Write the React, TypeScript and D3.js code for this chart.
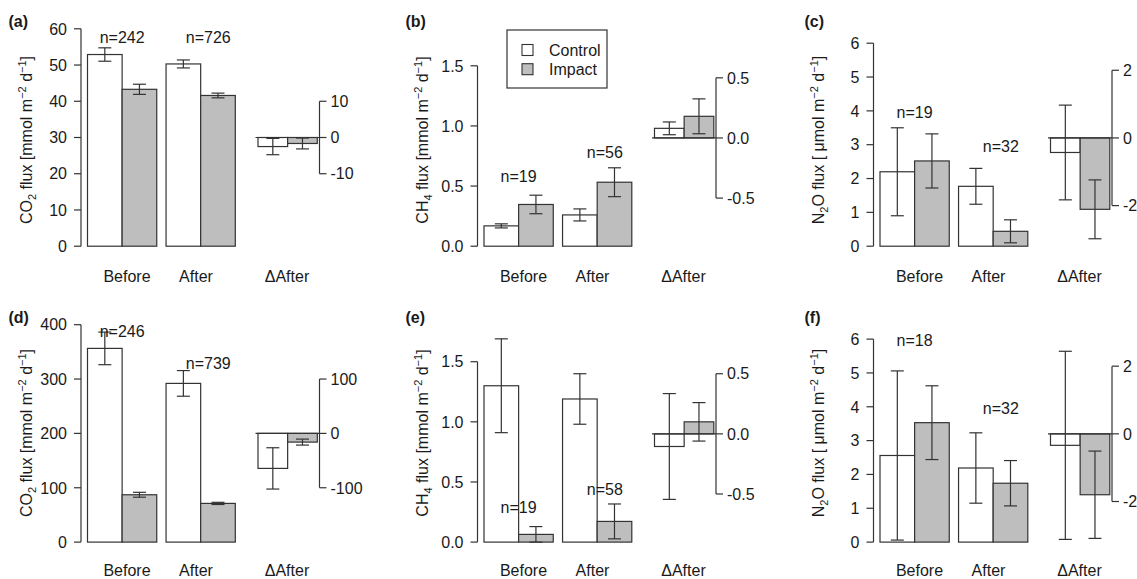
import React from "react";
import * as d3 from "d3";

// ---------- categories ----------
const groups = ["Before", "After"];
const seriesNames = ["Control", "Impact"];
const deltaLabel = "ΔAfter";
const panelLabels = ["(a)", "(b)", "(c)", "(d)", "(e)", "(f)"];

// ---------- values: order Before-Control, Before-Impact, After-Control, After-Impact ----------
const aMeans = [52.9, 43.3, 50.3, 41.6];
const aErrs = [1.85, 1.4, 1.1, 0.65];
const aDelta = [-2.5, -1.65];
const aDeltaErr = [2.25, 1.5];
const aN = [242, 726];
const aNy = [57.8, 57.8];

const bMeans = [0.169, 0.347, 0.26, 0.532];
const bErrs = [0.017, 0.077, 0.05, 0.12];
const bDelta = [0.08, 0.18];
const bDeltaErr = [0.053, 0.145];
const bN = [19, 56];
const bNy = [0.58, 0.78];

const cMeans = [2.2, 2.52, 1.77, 0.44];
const cErrs = [1.3, 0.8, 0.53, 0.34];
const cDelta = [-0.43, -2.11];
const cDeltaErr = [1.4, 0.87];
const cN = [19, 32];
const cNy = [3.96, 2.96];

const dMeans = [356.4, 87.1, 292, 71.2];
const dErrs = [30, 4.5, 23.6, 2];
const dDelta = [-64.4, -16];
const dDeltaErr = [38, 5.5];
const dN = [246, 739];
const dNy = [387.7, 328.2];

const eMeans = [1.3, 0.064, 1.19, 0.172];
const eErrs = [0.39, 0.065, 0.21, 0.145];
const eDelta = [-0.105, 0.1];
const eDeltaErr = [0.44, 0.16];
const eN = [19, 58];
const eNy = [0.29, 0.44];

const fMeans = [2.56, 3.53, 2.19, 1.74];
const fErrs = [2.5, 1.09, 1.04, 0.67];
const fDelta = [-0.34, -1.8];
const fDeltaErr = [2.78, 1.29];
const fN = [18, 32];
const fNy = [5.97, 3.95];

// ---------- tick labels ----------
const co2TicksTop = [0, 10, 20, 30, 40, 50, 60];
const co2DeltaTicksTop = [-10, 0, 10];
const co2TicksBottom = [0, 100, 200, 300, 400];
const co2DeltaTicksBottom = [-100, 0, 100];
const ch4Ticks = [0, 0.5, 1.0, 1.5];
const ch4DeltaTicks = [-0.5, 0, 0.5];
const n2oTicks = [0, 1, 2, 3, 4, 5, 6];
const n2oDeltaTicks = [-2, 0, 2];
// value on the left axis where the ΔAfter zero sits
const deltaOrigins = [30, 0.9, 3.2, 200, 0.9, 3.2];

type Gas = "CO2" | "CH4" | "N2O";

const panels = [
  { means: aMeans, errs: aErrs, delta: aDelta, deltaErr: aDeltaErr, n: aN, ny: aNy, ticks: co2TicksTop, dticks: co2DeltaTicksTop, gas: "CO2" as Gas, dec: 0 },
  { means: bMeans, errs: bErrs, delta: bDelta, deltaErr: bDeltaErr, n: bN, ny: bNy, ticks: ch4Ticks, dticks: ch4DeltaTicks, gas: "CH4" as Gas, dec: 1 },
  { means: cMeans, errs: cErrs, delta: cDelta, deltaErr: cDeltaErr, n: cN, ny: cNy, ticks: n2oTicks, dticks: n2oDeltaTicks, gas: "N2O" as Gas, dec: 0 },
  { means: dMeans, errs: dErrs, delta: dDelta, deltaErr: dDeltaErr, n: dN, ny: dNy, ticks: co2TicksBottom, dticks: co2DeltaTicksBottom, gas: "CO2" as Gas, dec: 0 },
  { means: eMeans, errs: eErrs, delta: eDelta, deltaErr: eDeltaErr, n: eN, ny: eNy, ticks: ch4Ticks, dticks: ch4DeltaTicks, gas: "CH4" as Gas, dec: 1 },
  { means: fMeans, errs: fErrs, delta: fDelta, deltaErr: fDeltaErr, n: fN, ny: fNy, ticks: n2oTicks, dticks: n2oDeltaTicks, gas: "N2O" as Gas, dec: 0 },
];

// ---------- layout ----------
const W = 1137;
const H = 579;
const colAxisX = [81, 477.5, 873.5];
const colLabelDx = [-72.5, -72, -69];
const colSpan = [217.4, 180.4, 203.0];
const rowZero = [246.2, 542.1];
const rowCatDy = [35.5, 34.3];
const rowTitleY = [140, 433];
const rowPanelLabelY = [27, 323];
const FONT = "'Liberation Sans', Arial, Helvetica, sans-serif";
const INK = "#333333";
const TXT = "#1a1a1a";
const GRAY = "#bebebe";
const FS = 16;

function fmt(v: number, dec: number) {
  return v.toFixed(dec);
}

function YTitle({ gas, x, y }: { gas: Gas; x: number; y: number }) {
  const sub = { fontSize: 11 };
  return (
    <text
      transform={`translate(${x},${y}) rotate(-90)`}
      textAnchor="middle"
      fontFamily={FONT}
      fontSize={FS}
      fill={TXT}
    >
      {gas === "CO2" && (
        <>
          <tspan>CO</tspan>
          <tspan dy={4} style={sub}>2</tspan>
          <tspan dy={-4}> flux [mmol m</tspan>
        </>
      )}
      {gas === "CH4" && (
        <>
          <tspan>CH</tspan>
          <tspan dy={4} style={sub}>4</tspan>
          <tspan dy={-4}> flux [mmol m</tspan>
        </>
      )}
      {gas === "N2O" && (
        <>
          <tspan>N</tspan>
          <tspan dy={4} style={sub}>2</tspan>
          <tspan dy={-4}>O flux [ μmol m</tspan>
        </>
      )}
      <tspan dy={-6} style={sub}>−2</tspan>
      <tspan dy={6}> d</tspan>
      <tspan dy={-6} style={sub}>−1</tspan>
      <tspan dy={6}>]</tspan>
    </text>
  );
}

function Panel({ idx }: { idx: number }) {
  const p = panels[idx];
  const col = idx % 3;
  const row = Math.floor(idx / 3);
  const x0 = colAxisX[col];
  const zero = rowZero[row];
  const span = colSpan[col];
  const top = p.ticks[p.ticks.length - 1];
  const off = deltaOrigins[idx];

  const y = d3.scaleLinear().domain([0, top]).range([zero, zero - span]);
  const yD = d3.scaleLinear().domain([-off, top - off]).range([zero, zero - span]);
  const xg = d3
    .scaleBand<string>()
    .domain(groups)
    .range([x0 + 6.5, x0 + 154.3])
    .paddingInner(0.1185)
    .paddingOuter(0);
  const xs = d3.scaleBand<string>().domain(seriesNames).range([0, xg.bandwidth()]);
  const xd = d3.scaleBand<string>().domain(seriesNames).range([x0 + 177, x0 + 236.3]);
  const rightX = x0 + 238.5;
  const capHalf = 6.5;

  const bars: React.ReactNode[] = [];
  const errs: React.ReactNode[] = [];
  groups.forEach((g, gi) => {
    seriesNames.forEach((s, si) => {
      const k = gi * 2 + si;
      const v = p.means[k];
      const e = p.errs[k];
      const bx = (xg(g) as number) + (xs(s) as number);
      bars.push(
        <rect
          key={`b${k}`}
          x={bx}
          y={y(v)}
          width={xs.bandwidth()}
          height={zero - y(v)}
          fill={si === 0 ? "#ffffff" : GRAY}
          stroke={INK}
          strokeWidth={1.2}
        />
      );
      const cx = bx + xs.bandwidth() / 2;
      const y1 = y(v + e);
      const y2 = y(Math.max(v - e, 0));
      errs.push(
        <g key={`e${k}`} stroke={INK} strokeWidth={1.2}>
          <line x1={cx} x2={cx} y1={y1} y2={y2} />
          <line x1={cx - capHalf} x2={cx + capHalf} y1={y1} y2={y1} />
          <line x1={cx - capHalf} x2={cx + capHalf} y1={y2} y2={y2} />
        </g>
      );
    });
  });

  seriesNames.forEach((s, si) => {
    const v = p.delta[si];
    const e = p.deltaErr[si];
    const bx = xd(s) as number;
    const yt = Math.min(yD(0), yD(v));
    bars.push(
      <rect
        key={`d${si}`}
        x={bx}
        y={yt}
        width={xd.bandwidth()}
        height={Math.abs(yD(v) - yD(0))}
        fill={si === 0 ? "#ffffff" : GRAY}
        stroke={INK}
        strokeWidth={1.2}
      />
    );
    const cx = bx + xd.bandwidth() / 2;
    const y1 = yD(v + e);
    const y2 = yD(v - e);
    errs.push(
      <g key={`de${si}`} stroke={INK} strokeWidth={1.2}>
        <line x1={cx} x2={cx} y1={y1} y2={y2} />
        <line x1={cx - capHalf} x2={cx + capHalf} y1={y1} y2={y1} />
        <line x1={cx - capHalf} x2={cx + capHalf} y1={y2} y2={y2} />
      </g>
    );
  });

  const nLabelX = [
    (xg("Before") as number) + xg.bandwidth() / 2,
    (xg("After") as number) + xg.bandwidth() / 2 + xs.bandwidth() * 0.22,
  ];

  const catX = [x0 + 46, x0 + 115, x0 + 206];
  const cats = [...groups, deltaLabel];

  return (
    <g>
      {bars}
      <line x1={x0 + 174.5} x2={rightX} y1={yD(0)} y2={yD(0)} stroke={INK} strokeWidth={1.2} />
      {errs}
      <g stroke={INK} strokeWidth={1.2}>
        <line x1={x0} x2={x0} y1={y(p.ticks[0])} y2={y(top)} />
        {p.ticks.map((t) => (
          <line key={t} x1={x0 - 7} x2={x0} y1={y(t)} y2={y(t)} />
        ))}
      </g>
      {p.ticks.map((t) => (
        <text
          key={`lt${t}`}
          x={x0 - 14}
          y={y(t)}
          dy="0.36em"
          textAnchor="end"
          fontFamily={FONT}
          fontSize={FS}
          fill={TXT}
        >
          {fmt(t, p.dec)}
        </text>
      ))}
      <g stroke={INK} strokeWidth={1.2}>
        <line
          x1={rightX}
          x2={rightX}
          y1={yD(p.dticks[0])}
          y2={yD(p.dticks[p.dticks.length - 1])}
        />
        {p.dticks.map((t) => (
          <line key={t} x1={rightX} x2={rightX + 7} y1={yD(t)} y2={yD(t)} />
        ))}
      </g>
      {p.dticks.map((t) => (
        <text
          key={`rt${t}`}
          x={rightX + 11}
          y={yD(t)}
          dy="0.36em"
          textAnchor="start"
          fontFamily={FONT}
          fontSize={FS}
          fill={TXT}
        >
          {fmt(t, p.dec)}
        </text>
      ))}
      {p.n.map((n, i) => (
        <text
          key={`n${i}`}
          x={nLabelX[i]}
          y={y(p.ny[i])}
          dy="0.36em"
          textAnchor="middle"
          fontFamily={FONT}
          fontSize={FS}
          fill={TXT}
        >
          {`n=${n}`}
        </text>
      ))}
      {cats.map((c, i) => (
        <text
          key={c}
          x={catX[i]}
          y={zero + rowCatDy[row]}
          textAnchor="middle"
          fontFamily={FONT}
          fontSize={FS}
          fill={TXT}
        >
          {c}
        </text>
      ))}
      <YTitle gas={p.gas} x={x0 - 49.5} y={rowTitleY[row]} />
      <text
        x={x0 + colLabelDx[col]}
        y={rowPanelLabelY[row]}
        fontFamily={FONT}
        fontSize={FS}
        fontWeight="bold"
        fill={TXT}
      >
        {panelLabels[idx]}
      </text>
    </g>
  );
}

function Legend() {
  const lx = colAxisX[1] + 29.5;
  const ly = 30;
  return (
    <g>
      <rect x={lx} y={ly} width={100} height={58} fill="#ffffff" stroke={INK} strokeWidth={1.2} />
      {seriesNames.map((s, i) => (
        <g key={s}>
          <rect
            x={lx + 15}
            y={ly + 14.5 + i * 19.2}
            width={11}
            height={11}
            fill={i === 0 ? "#ffffff" : GRAY}
            stroke={INK}
            strokeWidth={1.1}
          />
          <text
            x={lx + 42}
            y={ly + 20 + i * 19.2}
            dy="0.36em"
            fontFamily={FONT}
            fontSize={FS}
            fill={TXT}
          >
            {s}
          </text>
        </g>
      ))}
    </g>
  );
}

export default function App() {
  return (
    <div style={{ position: "absolute", left: 0, top: 0, width: W, height: H, background: "#fff" }}>
      <svg width={W} height={H} viewBox={`0 0 ${W} ${H}`} style={{ display: "block" }}>
        <rect x={0} y={0} width={W} height={H} fill="#ffffff" />
        {panels.map((_, i) => (
          <Panel key={i} idx={i} />
        ))}
        <Legend />
      </svg>
    </div>
  );
}
